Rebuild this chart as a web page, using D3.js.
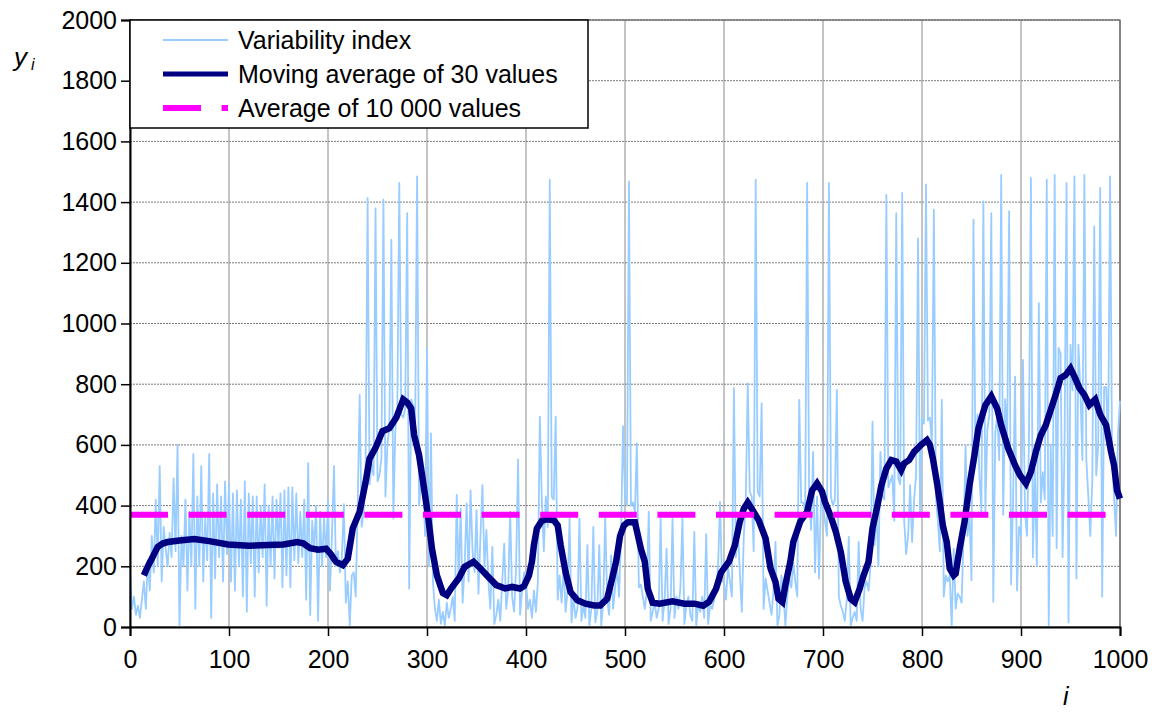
<!DOCTYPE html>
<html>
<head>
<meta charset="utf-8">
<script src="https://cdn.jsdelivr.net/npm/d3@7"></script>
<style>
    body { margin: 0; background: #fff; }
    svg text { font-family: "Liberation Sans", Arial, sans-serif; fill: #000; }
</style>
</head>
<body>
<div id="chart"></div>
<script>
// variability index, one reading every 2 steps of i (i = 0, 2, 4 ... 1000)
var indexStep = 2;
var indexValues = [
    180, 60, 100, 40, 70, 30, 90, 150, 60, 220, 120, 300, 180, 420, 200, 530, 150, 330, 260, 200,
    310, 230, 490, 250, 600, 0, 300, 200, 420, 120, 380, 200, 570, 60, 430, 200, 530, 150, 360, 220,
    570, 30, 440, 160, 470, 230, 430, 150, 480, 240,
    470, 150, 440, 120, 450, 200, 420, 100, 480, 50, 440, 210, 430, 100, 430, 180, 400, 230, 470, 70,
    400, 200, 430, 160, 420, 260, 440, 130, 450, 170, 460, 130, 460, 220, 440, 210, 380, 230, 420, 90,
    540, 40, 350, 260, 400, 20, 380, 200, 360, 230,
    420, 120, 300, 530, 200, 250, 180, 230, 405, 80, 150, 5, 170, 180, 100, 400, 765, 330, 380, 540,
    1413, 470, 540, 500, 1380, 480, 500, 560, 1408, 430, 600, 660, 1276, 357, 650, 720, 1463, 700, 690, 720,
    1364, 126, 750, 730, 650, 1485, 400, 480, 520, 300,
    918, 200, 638, 150, 60, 20, 90, 10, 50, 5, 80, 30, 60, 100, 20, 435, 150, 390, 80, 200,
    407, 150, 450, 250, 180, 385, 110, 300, 467, 200, 320, 150, 60, 264, 10, 40, 90, 20, 150, 275,
    60, 120, 380, 100, 50, 200, 552, 40, 120, 180,
    150, 60, 90, 30, 120, 50, 150, 693, 420, 250, 430, 330, 1474, 430, 420, 693, 90, 170, 80, 200,
    50, 120, 357, 15, 100, 30, 60, 357, 20, 70, 30, 270, 5, 60, 330, 15, 50, 270, 5, 80,
    363, 90, 40, 236, 60, 130, 200, 100, 300, 662,
    430, 400, 1468, 400, 410, 380, 605, 130, 140, 100, 60, 120, 380, 20, 50, 80, 30, 60, 357, 20,
    90, 258, 10, 60, 357, 30, 100, 60, 130, 357, 10, 70, 100, 40, 20, 313, 5, 80, 50, 100,
    30, 306, 10, 70, 60, 90, 120, 200, 412, 150,
    150, 90, 200, 150, 100, 787, 230, 320, 180, 50, 300, 420, 803, 446, 430, 250, 1474, 446, 430, 737,
    60, 160, 120, 80, 40, 120, 280, 5, 40, 170, 110, 5, 100, 160, 130, 210, 150, 100, 748, 410,
    410, 380, 1463, 420, 320, 577, 180, 430, 160, 420,
    400, 350, 300, 1463, 430, 400, 420, 781, 100, 70, 50, 20, 90, 297, 5, 30, 50, 20, 280, 60,
    20, 130, 150, 120, 200, 677, 270, 380, 200, 577, 430, 420, 1424, 460, 480, 500, 350, 1364, 490, 470,
    1430, 350, 240, 300, 467, 280, 420, 500, 1280, 380,
    687, 670, 1458, 680, 690, 600, 1375, 430, 350, 250, 748, 100, 170, 150, 170, 5, 258, 60, 110, 100,
    80, 300, 600, 300, 370, 154, 1342, 540, 700, 500, 380, 1402, 380, 650, 700, 1364, 83, 640, 700, 550,
    1490, 370, 750, 600, 1370, 140, 420, 825, 120, 330,
    300, 880, 380, 300, 600, 1480, 230, 520, 200, 1067, 410, 510, 420, 1474, 5, 600, 300, 1490, 260, 920,
    900, 230, 600, 1463, 15, 930, 780, 1485, 160, 930, 780, 550, 1490, 550, 430, 300, 480, 1320, 500, 600,
    1447, 100, 790, 790, 600, 1485, 550, 430, 300, 640,
    745
];

var maPositions = [
    14, 18, 22, 28, 33, 38, 50, 65, 80, 99, 120, 140, 155, 169, 175, 182, 190, 198, 203, 208,
    215, 220, 225, 232, 238, 242, 248, 255, 262, 269, 276, 280, 284, 287, 292, 297, 301, 305, 310, 316,
    320, 325, 332, 338, 347, 354, 362, 370, 379, 386, 394, 398, 403, 406, 408, 411, 416, 421, 428, 432,
    435, 440, 445, 452, 460, 469, 475, 482, 487, 491, 495, 499, 503, 510, 513, 516, 520, 523, 528, 535,
    548, 560, 570, 579, 585, 592, 597, 605, 611, 616, 620, 624, 628, 635, 642, 647, 652, 655, 659, 662,
    667, 670, 677, 684, 689, 694, 699, 702, 708, 713, 718, 723, 728, 732, 737, 741, 746, 750, 755, 759,
    764, 769, 774, 779, 782, 787, 792, 799, 805, 808, 811, 815, 818, 821, 825, 828, 832, 834, 838, 843,
    848, 853, 857, 864, 870, 876, 880, 887, 894, 899, 905, 910, 915, 920, 925, 930, 935, 940, 945, 950,
    954, 959, 964, 969, 975, 980, 986, 991, 994, 997, 1000
];
var maValues = [
    170, 200, 225, 264, 275, 280, 285, 290, 283, 272, 268, 270, 272, 280, 276, 260, 255, 258, 240, 215,
    204, 225, 325, 380, 478, 555, 590, 645, 655, 690, 750, 740, 720, 632, 566, 457, 368, 258, 170, 112,
    105, 130, 160, 198, 215, 193, 165, 138, 127, 132, 127, 135, 170, 215, 270, 325, 350, 355, 352, 335,
    270, 180, 115, 88, 77, 71, 71, 93, 160, 215, 300, 335, 345, 345, 302, 258, 215, 126, 80, 77,
    85, 77, 77, 70, 83, 126, 180, 215, 270, 347, 390, 410, 390, 352, 292, 193, 149, 93, 82, 138,
    215, 280, 347, 380, 450, 473, 446, 412, 363, 313, 247, 149, 93, 82, 126, 170, 215, 325, 400, 467,
    522, 550, 545, 517, 539, 550, 577, 600, 616, 600, 555, 478, 412, 335, 280, 193, 170, 176, 258, 347,
    467, 567, 655, 731, 760, 720, 665, 589, 533, 500, 473, 511, 577, 632, 665, 715, 765, 820, 830, 852,
    825, 787, 765, 731, 750, 700, 665, 577, 533, 450, 423
];

var overallAverage = 370;

var xTicks = [0, 100, 200, 300, 400, 500, 600, 700, 800, 900, 1000];
var yTicks = [0, 200, 400, 600, 800, 1000, 1200, 1400, 1600, 1800, 2000];
var legendLabels = ["Variability index", "Moving average of 30 values", "Average of 10 000 values"];

var width = 1157, height = 713;
// plot area in pixels (note: "top" is taken by window.top, so plotTop etc.)
var plotLeft = 130, plotRight = 1120, plotTop = 20, plotBottom = 627;
var fontSize = 25;

var svg = d3.select("#chart").append("svg")
    .attr("width", width)
    .attr("height", height);

var x = d3.scaleLinear().domain([0, 1000]).range([plotLeft, plotRight]);
var y = d3.scaleLinear().domain([0, 2000]).range([plotBottom, plotTop]);

// grid
svg.append("g").selectAll("line").data(yTicks.slice(1))
    .enter().append("line")
    .attr("x1", plotLeft).attr("x2", plotRight)
    .attr("y1", d => y(d)).attr("y2", d => y(d))
    .attr("stroke", "#7a7a7a")
    .attr("stroke-dasharray", "2,1");
svg.append("g").selectAll("line").data(xTicks.slice(1))
    .enter().append("line")
    .attr("x1", d => x(d)).attr("x2", d => x(d))
    .attr("y1", plotTop).attr("y2", plotBottom)
    .attr("stroke", "#8a8a8a");

// plot frame
svg.append("rect")
    .attr("x", plotLeft).attr("y", plotTop)
    .attr("width", plotRight - plotLeft).attr("height", plotBottom - plotTop)
    .attr("fill", "none")
    .attr("stroke", "#444");

// series
var blueLine = d3.line()
    .x((d, k) => x(k * indexStep))
    .y(d => y(d));
svg.append("path")
    .datum(indexValues)
    .attr("d", blueLine)
    .attr("fill", "none")
    .attr("stroke", "#99ccff")
    .attr("stroke-width", 1.8)
    .attr("stroke-linejoin", "round");

var maLine = d3.line()
    .x((d, k) => x(maPositions[k]))
    .y(d => y(d));
svg.append("path")
    .datum(maValues)
    .attr("d", maLine)
    .attr("fill", "none")
    .attr("stroke", "#000080")
    .attr("stroke-width", 6.5)
    .attr("stroke-linejoin", "miter");

svg.append("line")
    .attr("x1", x(0)).attr("x2", x(1000))
    .attr("y1", y(overallAverage)).attr("y2", y(overallAverage))
    .attr("stroke", "#ff00ff")
    .attr("stroke-width", 6)
    .attr("stroke-dasharray", "38,20.6");

// axes
var xAxis = svg.append("g")
    .attr("transform", `translate(0,${plotBottom})`)
    .call(d3.axisBottom(x).tickValues(xTicks).tickFormat(d3.format("d")).tickSize(9).tickPadding(14));
var yAxis = svg.append("g")
    .attr("transform", `translate(${plotLeft},0)`)
    .call(d3.axisLeft(y).tickValues(yTicks).tickFormat(d3.format("d")).tickSize(9).tickPadding(4));
[xAxis, yAxis].forEach(a => {
    a.select(".domain").attr("stroke", "#000").attr("stroke-width", 2);
    a.selectAll(".tick line").attr("stroke", "#000").attr("stroke-width", 1.5);
    a.selectAll(".tick text")
        .attr("font-family", "Liberation Sans, Arial, sans-serif")
        .attr("font-size", fontSize)
        .attr("fill", "#000");
});

// axis titles
var yTitle = svg.append("text")
    .attr("x", 14).attr("y", 66)
    .attr("font-size", 26)
    .attr("font-style", "italic");
yTitle.append("tspan").text("y");
yTitle.append("tspan").attr("dx", 4).attr("dy", 4).attr("font-size", 16).text("i");

svg.append("text")
    .attr("x", 1063).attr("y", 705)
    .attr("font-size", 25)
    .attr("font-style", "italic")
    .text("i");

// legend
var legend = svg.append("g");
legend.append("rect")
    .attr("x", plotLeft).attr("y", plotTop)
    .attr("width", 458).attr("height", 108)
    .attr("fill", "#fff")
    .attr("stroke", "#000")
    .attr("stroke-width", 1.5);

var legendRows = [40, 74, 108];
var legendStyles = [
    {color: "#99ccff", w: 2, dash: null},
    {color: "#000080", w: 5, dash: null},
    {color: "#ff00ff", w: 6, dash: "38,20.6"}
];
legendLabels.forEach((label, k) => {
    legend.append("line")
        .attr("x1", 163).attr("x2", 228)
        .attr("y1", legendRows[k]).attr("y2", legendRows[k])
        .attr("stroke", legendStyles[k].color)
        .attr("stroke-width", legendStyles[k].w)
        .attr("stroke-dasharray", legendStyles[k].dash);
    legend.append("text")
        .attr("x", 238).attr("y", legendRows[k])
        .attr("dy", "0.35em")
        .attr("font-size", fontSize)
        .text(label);
});
</script>
</body>
</html>
